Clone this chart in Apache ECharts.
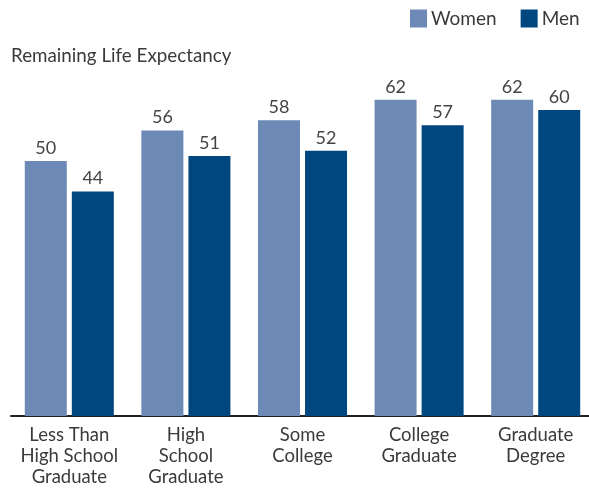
<!DOCTYPE html>
<html>
<head>
<meta charset="utf-8">
<script src="https://cdn.jsdelivr.net/npm/echarts@6/dist/echarts.min.js"></script>
<style>
  html, body { margin: 0; padding: 0; background: #fff; }
  #chart { width: 589px; height: 489px; }
</style>
</head>
<body>
<div id="chart"></div>
<script>
// data
const categories = ['Less Than\nHigh School\nGraduate', 'High\nSchool\nGraduate', 'Some\nCollege', 'College\nGraduate', 'Graduate\nDegree'];
const women = [50, 56, 58, 62, 62];
const men = [44, 51, 52, 57, 60];

const FONT = 'Lato, "Open Sans", sans-serif';

let chart = echarts.init(document.getElementById('chart'));

const labelStyle = {
  show: true,
  position: 'top',
  distance: 4,
  color: '#444',
  fontSize: 18,
  fontFamily: FONT
};

chart.setOption({
  animation: false,
  title: {
    text: 'Remaining Life Expectancy',
    left: 11,
    top: 46,
    padding: 0,
    textStyle: { color: '#3a3a3a', fontSize: 18.8, fontWeight: 'normal', fontFamily: FONT }
  },
  legend: {
    data: ['Women', 'Men'],
    left: 410,
    top: 9,
    padding: 0,
    width: 200,
    itemWidth: 17,
    itemHeight: 18,
    itemGap: 24,
    icon: 'rect',
    textStyle: { color: '#3a3a3a', fontSize: 19, fontFamily: FONT, padding: [0, 0, 0, -1] }
  },
  grid: { left: 11, width: 583, top: 59, bottom: 73, containLabel: false, outerBoundsMode: 'none' },
  xAxis: {
    type: 'category',
    data: categories,
    axisLine: { lineStyle: { color: '#222', width: 2 } },
    axisTick: { show: false },
    axisLabel: {
      color: '#3a3a3a',
      fontSize: 18.5,
      lineHeight: 21,
      fontFamily: FONT,
      margin: 9,
      interval: 0
    }
  },
  yAxis: {
    type: 'value',
    min: 0,
    max: 70,
    show: false,
    splitLine: { show: false }
  },
  series: [
    {
      name: 'Women',
      type: 'bar',
      data: women,
      barWidth: 42,
      barGap: '12%',
      itemStyle: { color: '#6d8ab7' },
      label: labelStyle
    },
    {
      name: 'Men',
      type: 'bar',
      data: men,
      barWidth: 42,
      barGap: '12%',
      itemStyle: { color: '#00467f' },
      label: labelStyle
    }
  ]
});
</script>
</body>
</html>
